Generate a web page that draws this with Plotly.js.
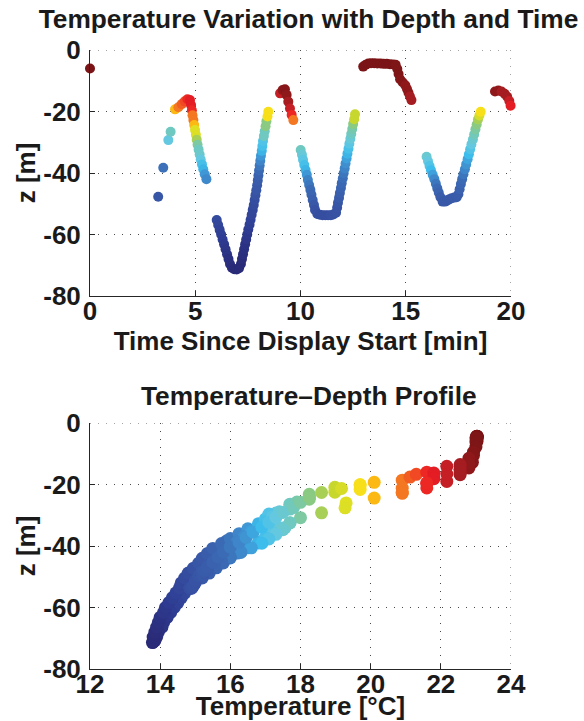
<!DOCTYPE html>
<html>
<head>
<meta charset="utf-8">
<script src="https://cdn.plot.ly/plotly-3.0.1.min.js"></script>
<style>html,body{margin:0;padding:0;background:#fff;}#chart{width:584px;height:721px;}</style>
</head>
<body>
<div id="chart"></div>
<script>
// ---- data (time [min], depth z [m], temperature [°C]) ----
var timeMin = [
  0.00,
  3.24, 3.48, 3.72, 3.83,
  4.04, 4.20, 4.36, 4.50, 4.63, 4.75, 4.80, 4.84, 4.87, 4.91, 4.95, 4.99, 5.03, 5.07, 5.11, 5.16, 5.21, 5.26, 5.32, 5.38, 5.45, 5.53,
  6.02, 6.09, 6.16, 6.23, 6.30, 6.37, 6.44, 6.51, 6.58, 6.65, 6.74,
  6.85, 6.97, 7.08,
  7.17, 7.22, 7.27, 7.32, 7.37, 7.42, 7.47, 7.52, 7.58, 7.63, 7.68, 7.73, 7.78, 7.82, 7.86, 7.90,
  7.94, 7.97, 8.00, 8.03, 8.06, 8.09, 8.12, 8.16, 8.19, 8.22, 8.26, 8.30, 8.34, 8.38, 8.43, 8.47,
  9.03, 9.15, 9.26, 9.34, 9.42, 9.50, 9.58, 9.66,
  10.01, 10.07, 10.12, 10.18, 10.24, 10.30, 10.35, 10.41, 10.47, 10.52, 10.58, 10.64, 10.69, 10.80,
  10.92, 11.05, 11.18, 11.31, 11.44, 11.56,
  11.69, 11.74, 11.78, 11.83, 11.87, 11.92, 11.96, 12.01, 12.05, 12.10, 12.14, 12.19, 12.23, 12.28, 12.32, 12.37, 12.41, 12.46, 12.50, 12.55, 12.59,
  12.98, 13.10, 13.22, 13.35, 13.50, 13.65, 13.80, 13.95, 14.10, 14.25, 14.40, 14.52, 14.60, 14.66, 14.73, 14.85, 14.98, 15.06, 15.13, 15.20, 15.27,
  15.99, 16.06, 16.13, 16.20, 16.28, 16.36, 16.43, 16.50, 16.57, 16.65, 16.75,
  16.87, 16.98, 17.08, 17.18, 17.30, 17.42,
  17.50, 17.56, 17.62, 17.68, 17.74, 17.81, 17.87, 17.94, 18.00, 18.06, 18.12, 18.19, 18.25, 18.31, 18.37, 18.43, 18.50, 18.56,
  19.24, 19.40, 19.55, 19.70, 19.82, 19.92, 19.98, 20.03
];
var depthM = [
  -6.0,
  -47.7, -38.3, -29.3, -26.6,
  -19.3, -18.6, -17.6, -16.7, -16.0, -16.3, -17.9, -19.6, -21.2, -22.8, -24.4, -26.0, -27.6, -29.2, -30.8, -32.4, -34.0, -35.6, -37.2, -38.8, -40.4, -42.0,
  -55.3, -56.9, -58.5, -60.0, -61.6, -63.2, -64.8, -66.4, -68.0, -69.6, -70.8,
  -71.3, -71.4, -71.0,
  -69.6, -68.0, -66.4, -64.8, -63.2, -61.6, -60.0, -58.4, -56.8, -55.2, -53.6, -52.0, -50.4, -48.8, -47.2, -45.6,
  -44.0, -42.4, -40.8, -39.2, -37.6, -36.0, -34.4, -32.8, -31.2, -29.6, -28.0, -26.4, -24.8, -23.2, -21.6, -20.1,
  -14.1, -13.0, -12.8, -14.6, -16.8, -19.0, -21.1, -22.8,
  -32.5, -34.1, -35.7, -37.4, -39.0, -40.6, -42.3, -43.9, -45.5, -47.1, -48.8, -50.4, -52.0, -53.3,
  -53.6, -53.7, -53.7, -53.7, -53.7, -53.5,
  -52.9, -51.3, -49.7, -48.1, -46.5, -44.9, -43.3, -41.7, -40.1, -38.5, -36.9, -35.3, -33.7, -32.1, -30.5, -28.9, -27.3, -25.7, -24.1, -22.5, -20.9,
  -5.4, -4.8, -4.4, -4.3, -4.3, -4.4, -4.4, -4.5, -4.5, -4.6, -4.7, -4.8, -6.2, -7.8, -9.5, -10.5, -11.5, -12.7, -13.9, -15.1, -16.3,
  -34.7, -36.2, -37.7, -39.1, -40.6, -42.0, -43.5, -45.0, -46.4, -47.9, -49.3,
  -49.3, -48.9, -48.5, -48.2, -48.0, -47.9,
  -46.9, -45.3, -43.6, -42.0, -40.4, -38.8, -37.2, -35.5, -33.9, -32.3, -30.7, -29.1, -27.5, -25.8, -24.2, -22.6, -21.3, -20.1,
  -13.5, -13.2, -13.5, -14.2, -15.2, -16.6, -18.1, -19.5
];
var tempC = [
  23.03,
  15.1, 15.9, 17.3, 17.7,
  20.1, 20.9, 21.12, 21.3, 21.6, 21.8, 21.8, 21.6, 20.9, 20.9, 20.1, 19.3, 19.27, 18.6, 18.0, 17.7, 17.56, 17.3, 17.0, 16.8, 16.5, 16.3,
  14.7, 14.6, 14.5, 14.4, 14.3, 14.2, 14.1, 14.05, 13.95, 13.9, 13.85,
  13.8, 13.78, 13.8,
  13.8, 13.85, 13.9, 13.95, 14.0, 14.1, 14.15, 14.25, 14.35, 14.45, 14.55, 14.6, 14.7, 14.8, 14.95, 15.1,
  15.2, 15.35, 15.5, 15.75, 16.0, 16.25, 16.5, 16.8, 17.0, 17.1, 17.7, 17.7, 18.25, 18.25, 19.7, 19.7,
  22.17, 22.8, 22.9, 22.8, 22.55, 22.17, 21.6, 20.9,
  17.7, 17.4, 17.2, 17.0, 16.8, 16.5, 16.2, 16.0, 15.8, 15.6, 15.4, 15.2, 15.0, 14.9,
  14.85, 14.85, 14.85, 14.85, 14.9, 14.9,
  14.95, 15.0, 15.1, 15.25, 15.4, 15.55, 15.7, 15.85, 16.0, 16.2, 16.4, 16.6, 16.8, 17.0, 17.2, 17.4, 17.7, 17.9, 18.25, 18.98, 18.98,
  23.03, 23.03, 23.03, 23.03, 23.03, 23.03, 23.03, 23.03, 23.03, 23.03, 23.03, 23.0, 23.0, 23.0, 22.93, 22.93, 22.8, 22.8, 22.8, 22.55, 22.55,
  17.5, 17.3, 17.1, 16.9, 16.6, 16.3, 16.0, 15.75, 15.55, 15.35, 15.2,
  15.2, 15.2, 15.2, 15.2, 15.25, 15.3,
  15.35, 15.5, 15.65, 15.8, 16.0, 16.25, 16.45, 16.65, 16.9, 17.1, 17.3, 17.5, 17.8, 18.0, 18.25, 18.6, 19.17, 19.7,
  22.8, 22.8, 22.55, 22.55, 22.55, 22.17, 21.8, 21.6
];

// tick labels
var timeTicks = [0, 5, 10, 15, 20];
var timeTickText = ['0', '5', '10', '15', '20'];
var depthTicks = [0, -20, -40, -60, -80];
var depthTickText = ['0', '-20', '-40', '-60', '-80'];
var tempTicks = [12, 14, 16, 18, 20, 22, 24];
var tempTickText = ['12', '14', '16', '18', '20', '22', '24'];

// colour map (temperature → colour), jet-like as in the reference
var colorTemps = [13.76, 14.3, 15.0, 15.8, 16.4, 16.9, 17.3, 17.8, 18.3, 18.9, 19.6, 20.1, 20.9, 21.7, 22.4, 23.03];
var colorHex = ['#2a2a76', '#2e3d93', '#3853a4', '#3b6bb5', '#3f8fcf', '#3dbdec', '#64c9e0', '#72c9b9',
                '#8dca7d', '#c2d52f', '#f6e81a', '#fdb913', '#f47721', '#ec1c24', '#b21f24', '#7b1416'];

var tMin = colorTemps[0], tMax = colorTemps[colorTemps.length - 1];
var colorscale = colorTemps.map(function (t, i) { return [(t - tMin) / (tMax - tMin), colorHex[i]]; });

var FONT = 'Liberation Sans, Arial, Helvetica, sans-serif';
var TXT = '#1a1a1a';
var GRID = '#4a4a4a';
var GRIDDASH = '1px,7px';
function f(sz) { return {family: FONT, size: sz, color: TXT, weight: 'bold'}; }

function axisBase() {
  return {
    ticks: 'inside', ticklen: 5, tickwidth: 1, tickcolor: '#262626',
    showline: true, linecolor: '#262626', linewidth: 1, mirror: false,
    showgrid: true, gridcolor: GRID, gridwidth: 1, griddash: GRIDDASH,
    zeroline: false, tickfont: f(26), tickmode: 'array', fixedrange: true
  };
}

var xa = axisBase();
Object.assign(xa, {domain: [90/584, 511/584], anchor: 'y', range: [0, 20],
  tickvals: timeTicks, ticktext: timeTickText, ticklabelstandoff: -8,
  title: {text: 'Time Since Display Start [min]', font: f(26), standoff: 6}});
var ya = axisBase();
Object.assign(ya, {domain: [1 - 296/721, 1 - 50/721], anchor: 'x', range: [-80, 0],
  tickvals: depthTicks, ticktext: depthTickText, ticklabelstandoff: 3,
  title: {text: 'z [m]', font: f(26), standoff: 0}});
var xa2 = axisBase();
Object.assign(xa2, {domain: [90/584, 511/584], anchor: 'y2', range: [12, 24],
  tickvals: tempTicks, ticktext: tempTickText, ticklabelstandoff: -8,
  title: {text: 'Temperature [°C]', font: f(26), standoff: 11}});
var ya2 = axisBase();
Object.assign(ya2, {domain: [1 - 669/721, 1 - 423/721], anchor: 'x2', range: [-80, 0],
  tickvals: depthTicks, ticktext: depthTickText, ticklabelstandoff: 3,
  title: {text: 'z [m]', font: f(26), standoff: 0}});

var traces = [
  {type: 'scatter', mode: 'markers', x: timeMin, y: depthM, xaxis: 'x', yaxis: 'y',
   cliponaxis: false, hoverinfo: 'skip',
   marker: {size: 10, color: tempC, colorscale: colorscale, cmin: tMin, cmax: tMax, showscale: false, line: {width: 0}}},
  {type: 'scatter', mode: 'markers', x: tempC, y: depthM, xaxis: 'x2', yaxis: 'y2',
   cliponaxis: false, hoverinfo: 'skip',
   marker: {size: 13, color: tempC, colorscale: colorscale, cmin: tMin, cmax: tMax, showscale: false, line: {width: 0}}}
];

// dotted grid lines along the top and right plot edges (as in the reference)
function edgeLines(xr, yr, xRange, yRange) {
  var s = {type: 'line', layer: 'below', line: {color: GRID, width: 1, dash: GRIDDASH}};
  return [
    Object.assign({}, s, {xref: xr, yref: yr, x0: xRange[0], x1: xRange[1], y0: yRange[1], y1: yRange[1]}),
    Object.assign({}, s, {xref: xr, yref: yr, x0: xRange[1], x1: xRange[1], y0: yRange[1], y1: yRange[0]})
  ];
}

var layout = {
  width: 584, height: 721,
  margin: {l: 0, r: 0, t: 0, b: 0},
  paper_bgcolor: '#ffffff', plot_bgcolor: '#ffffff',
  showlegend: false,
  font: f(26),
  title: {text: 'Temperature Variation with Depth and Time', font: f(26.3),
          x: 308.5/584, xanchor: 'center', y: 1 - 19/721, yanchor: 'middle'},
  xaxis: xa, yaxis: ya, xaxis2: xa2, yaxis2: ya2,
  shapes: edgeLines('x', 'y', [0, 20], [-80, 0]).concat(edgeLines('x2', 'y2', [12, 24], [-80, 0])),
  annotations: [{text: 'Temperature–Depth Profile', font: f(26.3), showarrow: false,
                 xref: 'paper', yref: 'paper', x: 308.5/584, y: 1 - 396/721,
                 xanchor: 'center', yanchor: 'middle'}]
};

Plotly.newPlot('chart', traces, layout, {staticPlot: true, displayModeBar: false});
</script>
</body>
</html>
